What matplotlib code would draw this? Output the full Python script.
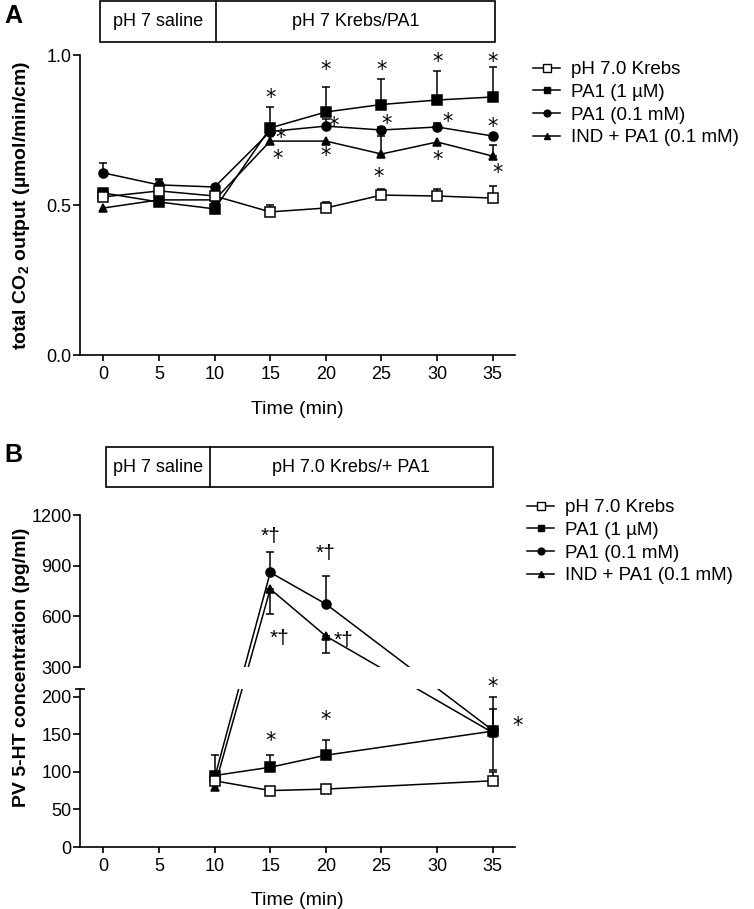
import numpy as np
import matplotlib
matplotlib.use('Agg')
import matplotlib.pyplot as plt
from matplotlib.patches import Rectangle
from matplotlib.lines import Line2D
from matplotlib import transforms

plt.rcParams['font.family'] = ['Liberation Sans', 'DejaVu Sans']
plt.rcParams['mathtext.fontset'] = 'custom'
plt.rcParams['mathtext.rm'] = 'Liberation Sans'
plt.rcParams['mathtext.bf'] = 'Liberation Sans:bold'

# ---- data, panel A (total CO2 output) ----
tA = [0, 5, 10, 15, 20, 25, 30, 35]
krebsA = [0.527, 0.547, 0.530, 0.477, 0.490, 0.533, 0.530, 0.523]
krebsA_err = [0.025, 0.040, 0.0, 0.023, 0.020, 0.020, 0.023, 0.040]
pa1uA = [0.540, 0.510, 0.487, 0.757, 0.810, 0.835, 0.850, 0.860]
pa1uA_err = [0.0, 0.0, 0.0, 0.070, 0.083, 0.085, 0.097, 0.100]
pa1mA = [0.607, 0.567, 0.560, 0.745, 0.763, 0.750, 0.760, 0.730]
pa1mA_err = [0.033, 0.015, 0.0, 0.0, 0.024, 0.010, 0.015, 0.0]
indA = [0.490, 0.517, 0.517, 0.713, 0.713, 0.670, 0.710, 0.663]
indA_err = [0.0, 0.0, 0.0, 0.0, 0.0, 0.060, 0.0, 0.037]
# significance marks (time, value, label)
starsA = [(15, 0.873, '*'), (15.9, 0.74, '*'), (15.7, 0.67, '*'),
          (20, 0.967, '*'), (20.7, 0.78, '*'), (20, 0.68, '*'),
          (25, 0.967, '*'), (25.5, 0.787, '*'), (24.7, 0.61, '*'),
          (30, 0.993, '*'), (30.9, 0.793, '*'), (30, 0.667, '*'),
          (35, 0.993, '*'), (35, 0.777, '*'), (35.4, 0.623, '*')]

# ---- data, panel B (PV 5-HT) ----
tB = [10, 15, 20, 35]
krebsB = [88, 75, 77, 88]
krebsB_err = [0, 0, 0, 12]
pa1uB = [95, 106, 122, 154]
pa1uB_err = [0, 16, 20, 46]
pa1mB = [92, 860, 673, 155]
pa1mB_err = [30, 120, 165, 28]
indB = [80, 762, 483, 152]
indB_err_down = [0, 148, 100, 50]
starsB = [(15, 1105, '*†'), (20, 1005, '*†'), (15.8, 501, '*†'), (21.6, 490, '*†'),
          (15, 148, '*'), (20, 175, '*'), (35, 239, '*'), (37.2, 168, '*')]

labels = ['pH 7.0 Krebs', 'PA1 (1 µM)', 'PA1 (0.1 mM)', 'IND + PA1 (0.1 mM)']
styles = [('s', 'white', 7), ('s', 'black', 6.5), ('o', 'black', 6.5), ('^', 'black', 6)]

# broken y axis of panel B: 0-210 below, 300-1200 above, straight lines across
LOW_TOP, HIGH_BOT, HIGH_TOP = 210, 300, 1200
LOW_PX, GAP_PX, HIGH_PX = 158, 22, 152


def fwd(v):
    v = np.asarray(v, float)
    return np.where(v <= LOW_TOP, v * LOW_PX / LOW_TOP,
                    np.where(v <= HIGH_BOT, LOW_PX + (v - LOW_TOP) * GAP_PX / (HIGH_BOT - LOW_TOP),
                             LOW_PX + GAP_PX + (v - HIGH_BOT) * HIGH_PX / (HIGH_TOP - HIGH_BOT)))


def inv(s):
    s = np.asarray(s, float)
    return np.where(s <= LOW_PX, s * LOW_TOP / LOW_PX,
                    np.where(s <= LOW_PX + GAP_PX, LOW_TOP + (s - LOW_PX) * (HIGH_BOT - LOW_TOP) / GAP_PX,
                             HIGH_BOT + (s - LOW_PX - GAP_PX) * (HIGH_TOP - HIGH_BOT) / HIGH_PX))


W, H = 754, 909
fig = plt.figure(figsize=(W / 100, H / 100), dpi=100)


def fx(px):
    return px / W


def fy(px):
    return 1 - px / H


XMIN, XMAX = -2.1, 37.0


def draw(ax, t, y, lo, hi, k, z):
    m, fc, ms = styles[k]
    t = np.array(t); y = np.array(y); lo = np.array(lo, float); hi = np.array(hi, float)
    sel = (lo > 0) | (hi > 0)
    if sel.any():
        ax.errorbar(t[sel], y[sel], yerr=[lo[sel], hi[sel]], fmt='none', ecolor='black',
                    elinewidth=1.1, capsize=3, capthick=1.1, zorder=z)
    ax.plot(t, y, '-', color='black', lw=1.1, marker=m, mfc=fc, mec='black', ms=ms,
            mew=1.1, zorder=z + 0.5)


def base_style(ax):
    for s in ['top', 'right']:
        ax.spines[s].set_visible(False)
    for s in ['left', 'bottom']:
        ax.spines[s].set_linewidth(1.2)
    ax.tick_params(axis='y', direction='out', length=5, width=1.2, labelsize=13, pad=1)
    ax.tick_params(axis='x', direction='out', length=4, width=1.2, labelsize=13, pad=4)
    ax.set_xlim(XMIN, XMAX)
    ax.set_xticks([0, 5, 10, 15, 20, 25, 30, 35])


def stars(ax, items, fs=15):
    for x, y, s in items:
        ax.annotate(s, (x, y), xytext=(0, -8), textcoords='offset points',
                    ha='center', va='baseline', fontsize=fs,
                    fontfamily='DejaVu Sans' if s == '*' else None,
                    annotation_clip=False, zorder=20)


def legend(x0, y0):
    handles = [Line2D([], [], color='black', lw=1.1, marker=m, mfc=fc, mec='black',
                      ms=ms * 0.75, mew=1.0) for m, fc, ms in styles]
    fig.legend(handles, labels, loc='upper left', bbox_to_anchor=(fx(x0), fy(y0)),
               frameon=False, fontsize=13.5, handlelength=1.45, handletextpad=0.6,
               labelspacing=0.3, borderpad=0, borderaxespad=0)


def header(ax, x0, x1, xdiv, top, bot, left_txt, right_txt):
    tr = transforms.blended_transform_factory(ax.transData, fig.transFigure)
    ax.add_patch(Rectangle((x0, fy(bot)), x1 - x0, fy(top) - fy(bot), fill=False,
                           lw=1.2, ec='black', transform=tr, clip_on=False))
    ax.add_line(Line2D([xdiv, xdiv], [fy(bot), fy(top)], color='black', lw=1.2,
                       transform=tr, clip_on=False))
    ym = (fy(bot) + fy(top)) / 2
    ax.text((x0 + xdiv) / 2, ym, left_txt, transform=tr, ha='center', va='center', fontsize=13)
    ax.text((xdiv + x1) / 2, ym, right_txt, transform=tr, ha='center', va='center', fontsize=13)


# ---------------- panel A ----------------
axA = fig.add_axes([fx(80), fy(355), fx(515) - fx(80), (355 - 55) / H])
base_style(axA)
axA.set_ylim(0, 1.0)
axA.set_yticks([0.0, 0.5, 1.0])
axA.set_yticklabels(['0.0', '0.5', '1.0'])
z0 = [0] * len(tA)
draw(axA, tA, pa1uA, z0, pa1uA_err, 1, 3)
draw(axA, tA, pa1mA, z0, pa1mA_err, 2, 4)
draw(axA, tA, indA, z0, indA_err, 3, 5)
draw(axA, tA, krebsA, z0, krebsA_err, 0, 6)
stars(axA, starsA)
axA.set_xlabel('Time (min)', fontsize=14, labelpad=13)
header(axA, -0.3, 35.2, 10.1, 1, 42, 'pH 7 saline', 'pH 7 Krebs/PA1')
fig.text(fx(22), fy(205), r'total CO$_{\mathbf{2}}$ output (µmol/min/cm)', rotation=90,
         ha='center', va='center', fontsize=14, fontweight='bold')
fig.text(fx(4), fy(4), 'A', fontsize=18, fontweight='bold', ha='left', va='top')
legend(533, 61)

# ---------------- panel B ----------------
axB = fig.add_axes([fx(80), fy(847), fx(515) - fx(80), (847 - 515) / H])
base_style(axB)
axB.set_yscale('function', functions=(fwd, inv))
axB.set_ylim(0, HIGH_TOP)
axB.set_yticks([0, 50, 100, 150, 200, 300, 600, 900, 1200])
axB.set_yticklabels(['0', '50', '100', '150', '200', '300', '600', '900', '1200'])
axB.spines['left'].set_visible(False)
zB = [0] * len(tB)
draw(axB, tB, pa1uB, zB, pa1uB_err, 1, 3)
draw(axB, tB, pa1mB, zB, pa1mB_err, 2, 4)
draw(axB, tB, indB, indB_err_down, zB, 3, 5)
draw(axB, tB, krebsB, zB, krebsB_err, 0, 6)
# white band hides everything inside the axis break
trB = transforms.blended_transform_factory(axB.transAxes, axB.transData)
axB.add_patch(Rectangle((0, LOW_TOP), 1, HIGH_BOT - LOW_TOP, fc='white', ec='none',
                        transform=trB, zorder=10))
for y0, y1 in [(0, LOW_TOP), (HIGH_BOT, HIGH_TOP)]:
    axB.plot([XMIN, XMIN], [y0, y1], color='black', lw=1.2, clip_on=False, zorder=11,
             solid_capstyle='projecting')
axB.plot([XMIN], [LOW_TOP], marker='_', ms=7, mew=1.2, color='black', clip_on=False, zorder=11)
stars(axB, starsB)
axB.set_xlabel('Time (min)', fontsize=14, labelpad=12)
header(axB, 0.2, 35.0, 9.6, 447, 487, 'pH 7 saline', 'pH 7.0 Krebs/+ PA1')
fig.text(fx(22), fy(667), 'PV 5-HT concentration (pg/ml)', rotation=90,
         ha='center', va='center', fontsize=14, fontweight='bold')
fig.text(fx(4), fy(443), 'B', fontsize=18, fontweight='bold', ha='left', va='top')
legend(527, 499)

fig.savefig('out.png', dpi=100)
